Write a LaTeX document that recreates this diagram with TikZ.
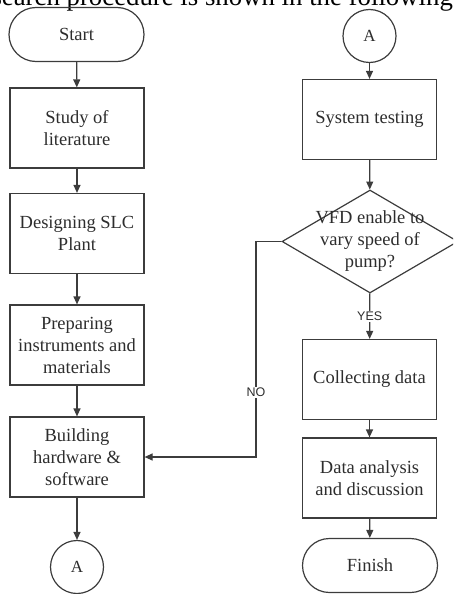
\documentclass[tikz,border=0pt]{standalone}
\usepackage{fontspec}
\setmainfont{Liberation Serif}
\newfontfamily\answerfont{Liberation Sans}
\usepackage{tikz}
\usetikzlibrary{arrows.meta,shapes.geometric,positioning,calc}
\definecolor{flowline}{RGB}{60,60,60}
\definecolor{flowtext}{RGB}{45,45,45}

\begin{document}
\begin{tikzpicture}[x=1pt,y=-1pt,
    every node/.style={font=\fontsize{18.5}{22}\selectfont, text=flowtext},
    process/.style={draw=flowline, line width=1.2pt, minimum width=134pt, minimum height=80pt, align=center, inner sep=0pt},
    terminal/.style={draw=flowline, line width=1.2pt, rounded corners=27pt, minimum width=135pt, minimum height=54pt, inner sep=0pt},
    connector/.style={draw=flowline, line width=1.2pt, circle, minimum size=53pt, inner sep=0pt, font=\fontsize{17}{20}\selectfont},
    decision/.style={draw=flowline, line width=1.2pt, diamond, aspect=1.71, minimum width=176pt, minimum height=103pt, inner sep=0pt},
    flow/.style={draw=flowline, line width=1.2pt, -{Triangle[length=8pt,width=7pt]}},
    answer/.style={font=\answerfont\fontsize{12.5}{14}\selectfont, fill=white, inner sep=1pt}
]
    \useasboundingbox (0,0) rectangle (453,594);
    \clip (0,0) rectangle (453,594);

    % Caption line cut off above
    \node[anchor=base west, inner sep=0pt, font=\fontsize{26.8}{30}\selectfont, text=black] (caption) at (-8.7,6) {search procedure is shown in the following};

    % Left column
    \node[terminal] (start) at (76.5,34.5) {Start};
    \node[process] (study) at (77,128) {Study of\\literature};
    \node[process] (design) at (77,233.5) {Designing SLC\\Plant};
    \node[process] (prepare) at (77,345) {Preparing\\instruments and\\materials};
    \node[process] (build) at (77,457) {Building\\hardware \&\\software};
    \node[connector] (linkout) at (77,567) {A};

    % Right column
    \node[connector] (linkin) at (369.5,36) {A};
    \node[process] (systest) at (369.5,119.5) {System testing};
    \node[decision, label={[align=center]center:{VFD enable to\\vary speed of\\pump?}}] (check) at (370,241.5) {};
    \node[process] (collect) at (369.5,379.5) {Collecting data};
    \node[process] (analyse) at (369.5,478) {Data analysis\\and discussion};
    \node[terminal] (finish) at (370,565.5) {Finish};

    \draw[flow] (start) -- (study);
    \draw[flow] (study) -- (design);
    \draw[flow] (design) -- (prepare);
    \draw[flow] (prepare) -- (build);
    \draw[flow] (build) -- (linkout);

    \draw[flow] (linkin) -- (systest);
    \draw[flow] (systest) -- (check);
    \draw[flow] (check) -- node[answer] {YES} (collect);
    \draw[flow] (collect) -- (analyse);
    \draw[flow] (analyse) -- (finish);

    % Loop back when the answer is no
    \coordinate (noturn) at (256,241.5);
    \draw[flow] (check.west) -- (noturn) |- node[answer, pos=0.35] {NO} (build.east);
\end{tikzpicture}
\end{document}
